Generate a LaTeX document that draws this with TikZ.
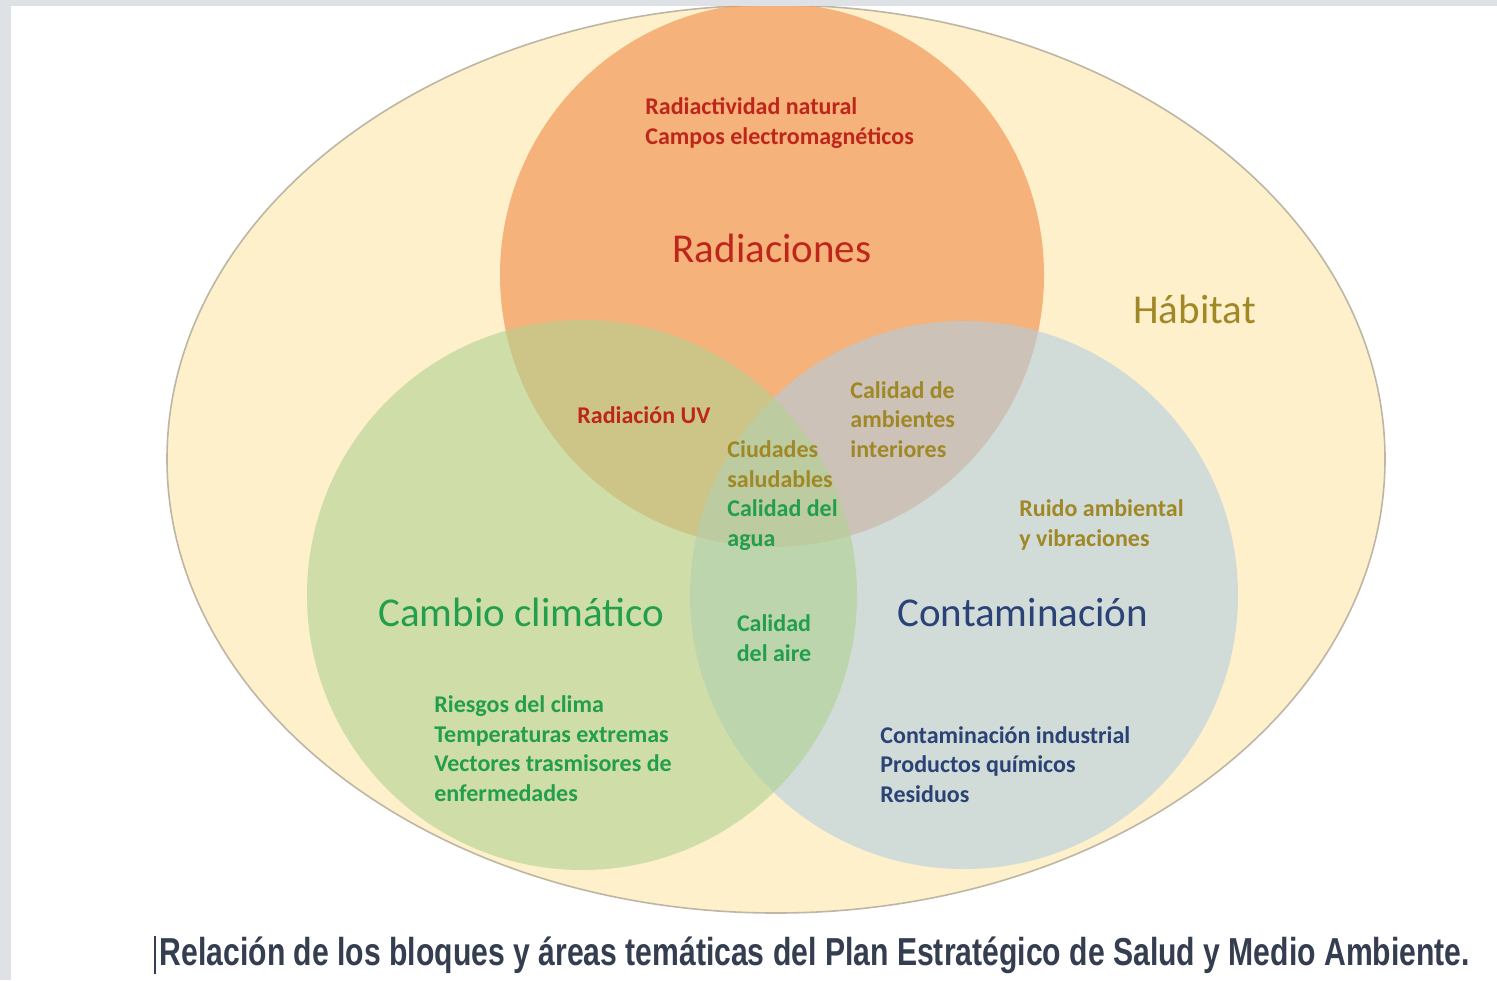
\documentclass[tikz,border=0pt]{standalone}
\usepackage{fontspec}
\usepackage{graphicx}
\setmainfont{Carlito}
\newfontfamily\capfont{Liberation Sans}
\usetikzlibrary{positioning}

\definecolor{framegray}{RGB}{222,226,230}
\definecolor{habfill}{RGB}{254,240,203}
\definecolor{habline}{RGB}{190,182,165}
\definecolor{radfill}{RGB}{239,137,68}
\definecolor{clifill}{RGB}{177,210,145}
\definecolor{confill}{RGB}{179,205,226}
\definecolor{radred}{RGB}{190,38,28}
\definecolor{habolive}{RGB}{160,136,38}
\definecolor{cligreen}{RGB}{34,158,76}
\definecolor{connavy}{RGB}{42,66,118}
\definecolor{capblue}{RGB}{52,62,80}

\begin{document}
\begin{tikzpicture}[
                x=0.5pt, y=-0.5pt,
                zone/.style={fill opacity=0.6},
                title/.style={font=\fontsize{20.5}{24}\selectfont, inner sep=0pt},
                item/.style={font=\bfseries\fontsize{12}{14.7}\selectfont, align=left, inner sep=0pt, anchor=base west},
                caption/.style={font=\capfont\bfseries\fontsize{19.5}{23}\selectfont, text=capblue, inner sep=0pt}
            ]

            %page
            \useasboundingbox (0,0) rectangle (1497,980);
            \fill[white] (0,0) rectangle (1497,980);

            %habitat
            \filldraw[fill=habfill, draw=habline, line width=0.8pt]
                (776,459) ellipse [x radius=304.5pt, y radius=227pt];

            %circles
            \fill[radfill, zone] (772,275) circle [radius=136pt];
            \fill[confill, zone] (964,595) circle [radius=137pt];
            \fill[clifill, zone] (582,595) circle [radius=137.5pt];

            %frame
            \fill[framegray] (0,0) rectangle (11,980);
            \fill[framegray] (0,0) rectangle (1497,6);

            %block titles
            \node[title, anchor=base, text=radred]          (radT)  at (772,262)  {Radiaciones};
            \node[title, anchor=base west, text=habolive]   (habT)  at (1133,323) {Hábitat};
            \node[title, anchor=base west, text=cligreen]   (cliT)  at (378,626)  {Cambio climático};
            \node[title, anchor=base west, text=connavy]    (conT)  at (897,626)  {Contaminación};

            %areas (placed at the baseline of their last line)
            \node[item, text=radred]    (radA)  at (645,144)  {Radiactividad natural\\Campos electromagnéticos};
            \node[item, text=radred]    (uv)    at (577,423)  {Radiación UV};
            \node[item, text=habolive]  (inter) at (850,457)  {Calidad de\\ambientes\\interiores};
            \node[item, text=habolive]  (city)  at (727,487)  {Ciudades\\saludables};
            \node[item, text=cligreen]  (water) at (727,546)  {Calidad del\\agua};
            \node[item, text=habolive]  (noise) at (1019,546) {Ruido ambiental\\y vibraciones};
            \node[item, text=cligreen, align=center, anchor=base] (air) at (774,661) {Calidad\\del aire};
            \node[item, text=cligreen]  (cliA)  at (434,801)  {Riesgos del clima\\Temperaturas extremas\\Vectores trasmisores de\\enfermedades};
            \node[item, text=connavy]   (conA)  at (880,802)  {Contaminación industrial\\Productos químicos\\Residuos};

            %caption
            \node[caption] (cap) at (815,955) {\resizebox{655pt}{\height}{Relación de los bloques y áreas temáticas del Plan Estratégico de Salud y Medio Ambiente.}};
            \draw[capblue, line width=1pt] ([xshift=-2.5pt]cap.north west) -- ([xshift=-2.5pt]cap.south west);

            \end{tikzpicture}
\end{document}
